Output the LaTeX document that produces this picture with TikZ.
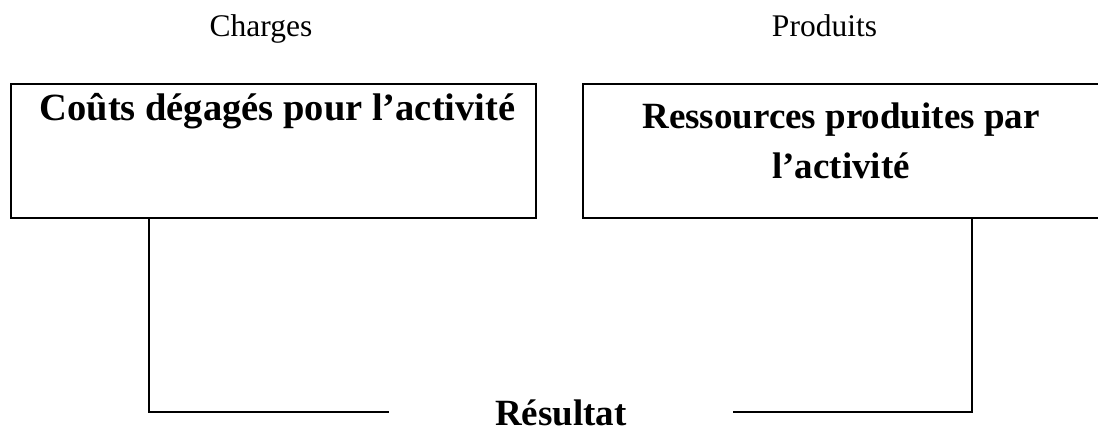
\documentclass[tikz,border=0pt]{standalone}
\usepackage{fontspec}
\setmainfont{Liberation Serif}
\begin{document}
\begin{tikzpicture}[x=1pt,y=-1pt,
  box/.style={draw,line width=1.8pt,inner sep=0pt},
  link/.style={draw,line width=1.6pt},
  head/.style={font=\fontsize{31.5}{36}\selectfont,anchor=base,inner sep=0pt},
  title/.style={font=\fontsize{37}{50}\selectfont\bfseries,anchor=base,inner sep=0pt,align=center}]
\useasboundingbox (0,0) rectangle (1098,428);
\clip (0,0) rectangle (1098,428);
% column headings
\node[head] (charges) at (261,36.5) {Charges};
\node[head] (produits) at (824.5,36.5) {Produits};
% the two boxes
\node[box,minimum width=525pt,minimum height=134pt] (costs) at (273.5,151) {};
\node[box,minimum width=517pt,minimum height=134pt] (res) at (841.5,151) {};
\node[title,font=\fontsize{38.5}{50}\selectfont\bfseries] (costsT) at (277.5,121) {Coûts dégagés pour l’activité};
% base anchor of a two-line node sits on its last line
\node[title] (resT) at (841,178) {Ressources produites par\\l’activité};
% result and its connectors
\node[title,inner xsep=106pt] (result) at (561,425) {Résultat};
\coordinate (cl) at (149,412);
\coordinate (cr) at (972,412);
\draw[link] (costs.south -| cl) -- (cl) -- (result.west |- cl);
\draw[link] (res.south -| cr) -- (cr) -- (result.east |- cr);
\end{tikzpicture}
\end{document}
